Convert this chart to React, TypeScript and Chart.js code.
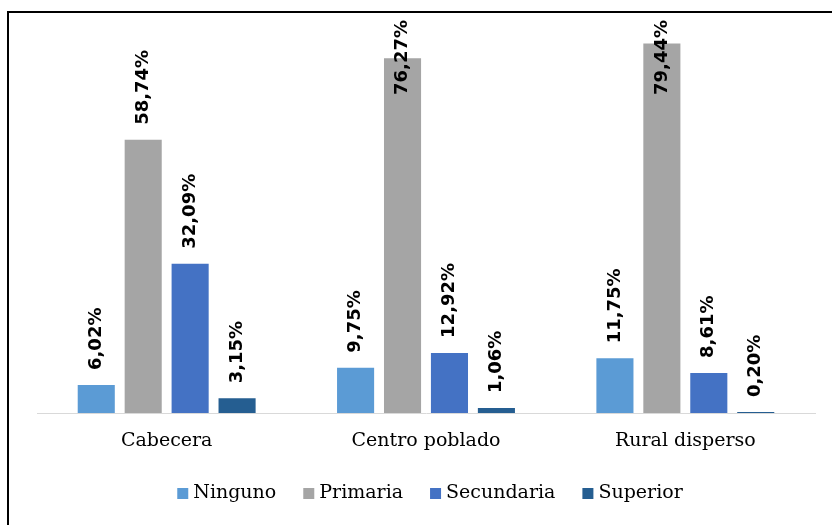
import React, { useEffect, useRef } from "react";
import { Chart, registerables } from "chart.js";

Chart.register(...registerables);

const categories = ["Cabecera", "Centro poblado", "Rural disperso"];
const seriesNames = ["Ninguno", "Primaria", "Secundaria", "Superior"];
const ninguno = [6.02, 9.75, 11.75];
const primaria = [58.74, 76.27, 79.44];
const secundaria = [32.09, 12.92, 8.61];
const superior = [3.15, 1.06, 0.2];
const seriesColors = ["#5B9BD5", "#A5A5A5", "#4472C4", "#255E91"];

const SERIF = "'DejaVu Serif'";
const fmt = (v: number) => v.toFixed(2).replace(".", ",") + "%";

const labelPlugin = {
  id: "barLabels",
  afterDatasetsDraw(chart: any) {
    const ctx = chart.ctx;
    ctx.save();
    ctx.font = "bold 18px 'DejaVu Sans'";
    ctx.fillStyle = "#000";
    ctx.textAlign = "left";
    ctx.textBaseline = "middle";
    chart.data.datasets.forEach((ds: any, di: number) => {
      const meta = chart.getDatasetMeta(di);
      meta.data.forEach((bar: any, i: number) => {
        const txt = fmt(ds.data[i]);
        const w = ctx.measureText(txt).width;
        let start = bar.y - 15;
        const minTop = 20;
        if (start - w < minTop) start = minTop + w;
        ctx.save();
        ctx.translate(bar.x, start);
        ctx.rotate(-Math.PI / 2);
        ctx.fillText(txt, 0, 0);
        ctx.restore();
      });
    });
    ctx.restore();
  },
};

const legendPlugin = {
  id: "customLegend",
  afterDraw(chart: any) {
    const ctx = chart.ctx;
    ctx.save();
    ctx.font = "19px " + SERIF;
    ctx.textBaseline = "middle";
    ctx.textAlign = "left";
    const box = 11;
    const gap = 5;
    const itemGap = 27;
    const widths = seriesNames.map((n) => ctx.measureText(n).width);
    const total = widths.reduce((a, b) => a + b + box + gap, 0) + itemGap * (seriesNames.length - 1);
    const ca = chart.chartArea;
    let x = (ca.left + ca.right) / 2 + 4 - total / 2;
    const cy = 493.5;
    seriesNames.forEach((n, i) => {
      ctx.fillStyle = seriesColors[i];
      ctx.fillRect(x, cy - box / 2, box, box);
      ctx.fillStyle = "#000";
      ctx.fillText(n, x + box + gap, cy);
      x += box + gap + widths[i] + itemGap;
    });
    ctx.restore();
  },
};

export default function App() {
  const ref = useRef<HTMLCanvasElement>(null);
  useEffect(() => {
    document.body.style.margin = "0";
    const chart = new Chart(ref.current as HTMLCanvasElement, {
      type: "bar",
      data: {
        labels: categories,
        datasets: [
          { label: seriesNames[0], data: ninguno, backgroundColor: seriesColors[0] },
          { label: seriesNames[1], data: primaria, backgroundColor: seriesColors[1] },
          { label: seriesNames[2], data: secundaria, backgroundColor: seriesColors[2] },
          { label: seriesNames[3], data: superior, backgroundColor: seriesColors[3] },
        ],
      },
      options: {
        animation: false,
        responsive: false,
        maintainAspectRatio: false,
        layout: { padding: { left: 37, right: 17, top: 41, bottom: 54 } },
        datasets: { bar: { categoryPercentage: 0.724, barPercentage: 0.79 } },
        plugins: { legend: { display: false }, tooltip: { enabled: false } },
        scales: {
          y: { display: false, min: 0, max: 80 },
          x: {
            grid: { display: false, drawTicks: false },
            border: { display: true, color: "#D9D9D9", width: 1 },
            ticks: { color: "#000", font: { family: SERIF, size: 19 }, padding: 17 },
            afterFit: (s: any) => { s.height = 58; },
          },
        },
      },
      plugins: [labelPlugin, legendPlugin],
    });
    return () => { chart.destroy(); };
  }, []);
  return (
    <div style={{ position: "relative", width: 832, height: 525, overflow: "hidden", background: "#fff" }}>
      <canvas ref={ref} width={832} height={525} style={{ position: "absolute", left: 0, top: 0 }} />
      <div style={{ position: "absolute", left: 7, top: 11, width: 900, height: 600, border: "2px solid #000", pointerEvents: "none" }} />
    </div>
  );
}
